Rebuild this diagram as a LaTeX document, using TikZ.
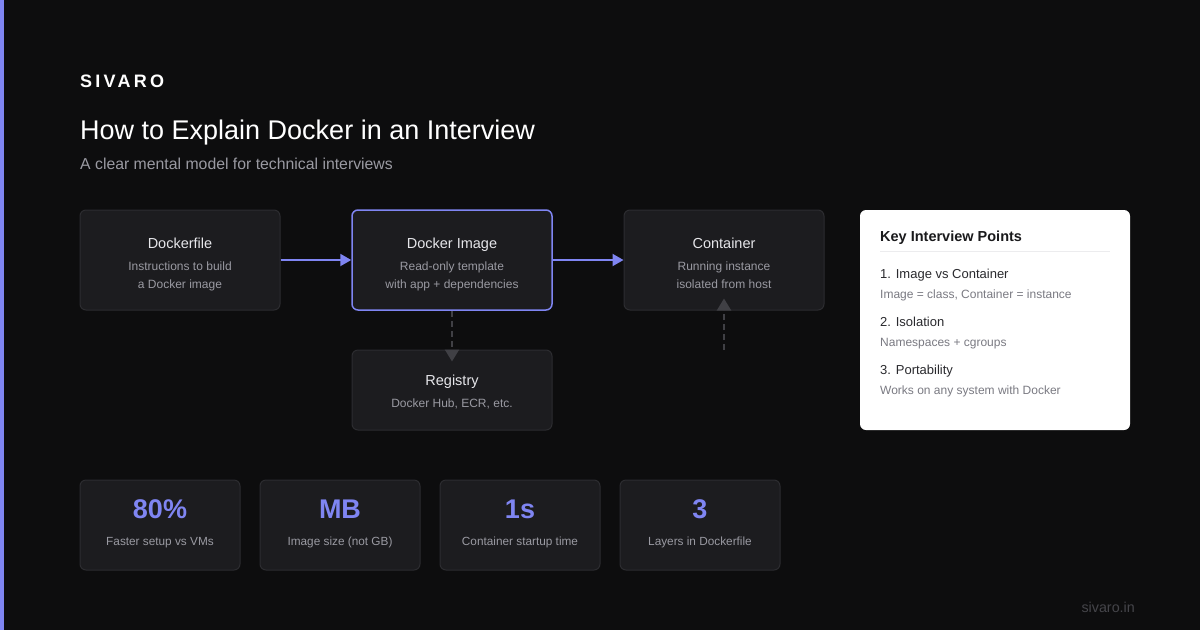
\documentclass[tikz,border=0pt]{standalone}
\usepackage{fontspec}
\setmainfont{Liberation Sans}
\usetikzlibrary{arrows.meta}
\definecolor{bg}{HTML}{0D0D0E}
\definecolor{accent}{HTML}{7F85F2}
\definecolor{boxfill}{HTML}{1C1C1F}
\definecolor{boxline}{HTML}{2C2C30}
\definecolor{subgray}{HTML}{9A9AA2}
\definecolor{titlewhite}{HTML}{E6E6EA}
\definecolor{dashgray}{HTML}{404045}
\definecolor{cardtitle}{HTML}{1A1A1C}
\definecolor{carditem}{HTML}{2A2A2E}
\definecolor{cardsub}{HTML}{7A7A82}
\definecolor{sepline}{HTML}{ECECEE}
\definecolor{footgray}{HTML}{45454A}
\tikzset{
  box/.style={draw=boxline, line width=1pt, fill=boxfill, rounded corners=6pt, minimum width=200pt, minimum height=100pt, inner sep=0pt},
  statbox/.style={draw=boxline, line width=1pt, fill=boxfill, rounded corners=6pt, minimum width=160pt, minimum height=90pt, inner sep=0pt},
  btitle/.style={anchor=base, inner sep=0pt, text=titlewhite, font=\fontsize{14.5}{16}\selectfont},
  bsub/.style={anchor=base, inner sep=0pt, text=subgray, font=\fontsize{12}{14}\selectfont},
  statlabel/.style={anchor=base, inner sep=0pt, text=subgray, font=\fontsize{11.8}{14}\selectfont},
  statnum/.style={anchor=base, inner sep=0pt, text=accent, font=\fontsize{27}{30}\selectfont\bfseries},
  flow/.style={draw=accent, line width=2pt, -{Triangle[length=11pt,width=12pt]}},
  dashflow/.style={draw=dashgray, line width=2pt, dash pattern=on 6pt off 4pt, -{Triangle[length=12pt,width=14pt,fill=dashgray]}},
  itemtitle/.style={anchor=base west, inner sep=0pt, text=carditem, font=\fontsize{13}{15}\selectfont},
  itemsub/.style={anchor=base west, inner sep=0pt, text=cardsub, font=\fontsize{12}{14}\selectfont},
}
\begin{document}
\begin{tikzpicture}[x=1pt,y=-1pt]
\useasboundingbox (0,0) rectangle (1200,630);
\fill[bg] (0,0) rectangle (1200,630);
\fill[accent] (0,0) rectangle (4,630);

% header
\node[anchor=base west, inner sep=0pt, text=white, font=\fontsize{18}{20}\selectfont\bfseries\addfontfeature{LetterSpace=18}] (brand) at (80,87) {SIVARO};
\node[anchor=base west, inner sep=0pt, text=white, font=\fontsize{27}{30}\selectfont] (title) at (80,139) {How to Explain Docker in an Interview};
\node[anchor=base west, inner sep=0pt, text=subgray, font=\fontsize{15.8}{18}\selectfont] (subtitle) at (80,169) {A clear mental model for technical interviews};

% flow boxes
\node[box] (df) at (180,260) {};
\node[box, draw=accent, line width=1.5pt] (img) at (452,260) {};
\node[box] (cont) at (724,260) {};
\node[box, minimum height=80pt] (reg) at (452,390) {};

\node[btitle] (dft) at (180,248) {Dockerfile};
\node[bsub] (dfs1) at (180,270) {Instructions to build};
\node[bsub] (dfs2) at (180,288) {a Docker image};

\node[btitle] (imgt) at (452,248) {Docker Image};
\node[bsub] (imgs1) at (452,270) {Read-only template};
\node[bsub] (imgs2) at (452,288) {with app + dependencies};

\node[btitle] (contt) at (724,248) {Container};
\node[bsub] (conts1) at (724,270) {Running instance};
\node[bsub] (conts2) at (724,288) {isolated from host};

\node[btitle] (regt) at (452,385) {Registry};
\node[bsub] (regs) at (452,407) {Docker Hub, ECR, etc.};

% connectors
\draw[flow] (df.east) -- (img.west);
\draw[flow] (img.east) -- (cont.west);
\draw[dashflow] (img.south) -- ([yshift=-12pt]reg.north);
\coordinate (hostpt) at (724,350);
\draw[dashflow] (hostpt) -- ([yshift=12pt]cont.south);

% key points card
\node[fill=white, rounded corners=6pt, minimum width=270pt, minimum height=220pt, inner sep=0pt] (card) at (995,320) {};
\node[anchor=base west, inner sep=0pt, text=cardtitle, font=\fontsize{14.5}{17}\selectfont\bfseries] (cardt) at (880,241) {Key Interview Points};
\draw[sepline, line width=1pt] (880,251.5) -- (1110,251.5);
\node[itemtitle] (i1) at (880,278) {1. Image vs Container};
\node[itemsub] (i1s) at (880,298) {Image = class, Container = instance};
\node[itemtitle] (i2) at (880,326) {2. Isolation};
\node[itemsub] (i2s) at (880,346) {Namespaces + cgroups};
\node[itemtitle] (i3) at (880,374) {3. Portability};
\node[itemsub] (i3s) at (880,394) {Works on any system with Docker};

% stats
\node[statbox] (s1) at (160,525) {};
\node[statbox] (s2) at (340,525) {};
\node[statbox] (s3) at (520,525) {};
\node[statbox] (s4) at (700,525) {};
\node[statnum] (n1) at (160,518) {80\%};
\node[statnum] (n2) at (340,518) {MB};
\node[statnum] (n3) at (520,518) {1s};
\node[statnum] (n4) at (700,518) {3};
\node[statlabel] (l1) at (160,545) {Faster setup vs VMs};
\node[statlabel] (l2) at (340,545) {Image size (not GB)};
\node[statlabel] (l3) at (520,545) {Container startup time};
\node[statlabel] (l4) at (700,545) {Layers in Dockerfile};

% footer
\node[anchor=base east, inner sep=0pt, text=footgray, font=\fontsize{14.3}{16}\selectfont] (foot) at (1135,612) {sivaro.in};
\end{tikzpicture}
\end{document}
